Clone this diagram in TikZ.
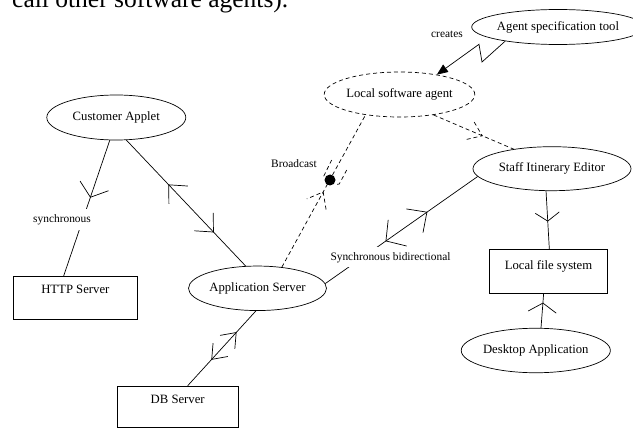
\documentclass[tikz,border=0pt]{standalone}
\usepackage{fontspec}
\setmainfont{Liberation Serif}
\usetikzlibrary{shapes.geometric,arrows.meta,decorations.markings}

\tikzset{
  thinline/.style={line width=0.7pt},
  dashline/.style={line width=0.7pt, dash pattern=on 4pt off 3pt},
  usecase/.style={ellipse, draw, line width=0.7pt, inner sep=0pt,
    font=\fontsize{12.7}{15}\selectfont},
  agentcase/.style={usecase, dash pattern=on 4pt off 3pt},
  store/.style={rectangle, draw, line width=0.7pt, inner xsep=0pt,
    inner ysep=0pt, anchor=north west, font=\fontsize{12.7}{15}\selectfont},
  tag/.style={inner sep=2pt, font=\fontsize{11.4}{13}\selectfont},
  gaptag/.style={tag, fill=white, inner xsep=3pt, inner ysep=5pt},
  % open stick arrowhead part way along a connector:
  % #1 position, #2 signed back length (negative = points forward), #3 half width
  barb/.style n args={3}{postaction={decorate, decoration={markings,
    mark=at position #1 with {\draw[thinline] (#2,#3) -- (0,0) -- (#2,-#3);}}}},
  dbarb/.style n args={3}{postaction={decorate, decoration={markings,
    mark=at position #1 with {\draw[dashline] (#2,#3) -- (0,0) -- (#2,-#3);}}}},
}

\begin{document}
\begin{tikzpicture}[x=1pt, y=-1pt]
  \useasboundingbox (0,0) rectangle (633,428);

  % running text of the page above the figure
  \begin{scope}
    \clip (0,0) rectangle (633,428);
    \node[anchor=base west, inner sep=0pt, font=\fontsize{25.5}{30}\selectfont]
      (intro) at (12,8) {call other software agents).};
  \end{scope}

  % use cases
  \node[usecase, minimum width=150pt, minimum height=35pt] (ast) at (558,27) {Agent specification tool};
  \node[agentcase, minimum width=139pt, minimum height=45pt] (lsa) at (399.5,94.5) {Local software agent};
  \node[usecase, minimum width=139pt, minimum height=45pt] (ca) at (116.3,117.5) {Customer Applet};
  \node[usecase, minimum width=138pt, minimum height=44.5pt] (as) at (257.5,288.3) {Application Server};
  \node[usecase, minimum width=158pt, minimum height=44pt] (sie) at (552,168.7) {Staff Itinerary Editor};
  \node[usecase, minimum width=140pt, minimum height=44.5pt] (da) at (535.8,350.5) {Desktop Application};

  % systems
  \node[store, minimum width=124pt, text height=17.2pt, text depth=25.8pt] (http) at (13,276) {HTTP Server};
  \node[store, minimum width=120.7pt, text height=17.5pt, text depth=23.8pt] (db) at (117,385.7) {DB Server};
  \node[store, minimum width=118.3pt, text height=19.9pt, text depth=23.5pt] (lfs) at (489,249.3) {Local file system};

  % creates (asynchronous)
  \coordinate (z1) at (482,62);
  \coordinate (z2) at (479,44.3);
  \draw[thinline, -{Triangle[length=11pt,width=9pt]}] (ast.-165) -- (z1) -- (z2) -- (lsa.28);
  \node[tag] (creates) at (447,34) {creates};

  % synchronous connectors
  \draw[thinline, barb={0.42}{-12}{15}] (ca.-106) -- ([xshift=-11.7pt]http.north);
  \node[gaptag] (sync) at (62,219.5) {synchronous};

  \draw[thinline, barb={0.355}{14}{13}, barb={0.73}{-14}{13}] (ca.-66.4) -- (as.118.9);
  \draw[thinline, barb={0.29}{13}{10}, barb={0.65}{-13}{10}] (as.-94.4) -- ([xshift=10pt]db.north);

  \draw[thinline, barb={0.398}{14}{16}, barb={0.667}{-15}{14.5}] (as.4.6) -- (sie.-174);
  \node[gaptag] (bidir) at (390.5,257.3) {Synchronous bidirectional};

  \draw[thinline, barb={0.517}{-8.5}{12}] (sie.-105) -- ([xshift=0.85pt]lfs.north);
  \draw[thinline, barb={0.72}{-9}{14}] (da.77.5) -- ([xshift=-4.85pt]lfs.south);

  % agent links
  \draw[dashline, dbarb={0.61}{-13}{9.5}] (lsa.-31.2) -- (sie.153.9);
  \draw[dashline, dbarb={0.494}{-14}{11}] (as.41) -- (lsa.-149.8);

  % broadcast marker
  \node[circle, fill, inner sep=0pt, minimum width=11pt, minimum height=11pt] (ball) at (330,180) {};
  \draw[dashline] (331.7,160) -- (323.3,177);
  \draw[dashline] (346.7,170) -- (339.3,184) -- (336,184.5);
  \node[tag] (bcast) at (294,164) {Broadcast};
\end{tikzpicture}
\end{document}
